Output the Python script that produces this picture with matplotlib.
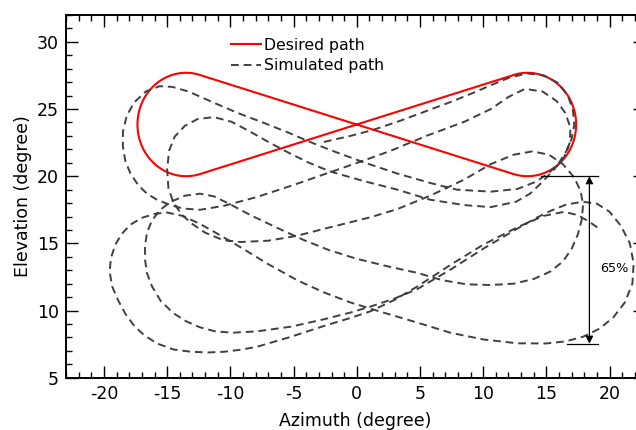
import numpy as np
import matplotlib
matplotlib.use("Agg")
import matplotlib.pyplot as plt
from matplotlib.ticker import MultipleLocator

# Desired figure-eight: two circles joined by crossing tangent lines
desired_center_az = 13.5
desired_center_el = 23.85
desired_radius = 3.85

# Simulated path in path order (azimuth, elevation)
sim_az = [
    -2.6, -0.5, 1.3, 3.5, 5.8, 7.5, 9.2, 10.8, 12.1, 13.5, 14.8, 15.9, 16.7, 17.1, 17.2,
    17.0, 16.6, 16.0, 15.2, 14.2, 12.7, 10.6, 7.9, 5.8, 3.2, 0.5, -2.1, -3.7, -5.3, -7.3,
    -9.4, -11.5, -13.3, -14.6, -15.6,
    -16.7, -17.6, -18.2, -18.5, -18.5, -18.3, -17.9, -17.3, -16.6, -15.8, -15.0, -13.8,
    -12.4, -10.5, -7.9, -5.0, -2.1, 0.5, 2.7, 5.5, 8.5, 10.6, 12.0, 13.3,
    14.7, 15.8, 16.5, 16.9, 16.85, 16.4, 15.6, 14.6, 13.7, 12.6, 10.6, 8.5, 5.8, 3.2, 0.5,
    -2.1, -3.9, -5.5, -6.9, -8.4, -9.9, -11.3,
    -12.6, -13.6, -14.4, -14.85, -15.0, -14.9, -14.5, -13.9, -13.1, -12.0, -10.6, -9.2,
    -7.0, -4.8, -2.1, 1.1, 3.2, 5.8, 8.5, 10.6, 12.4, 13.9,
    15.2, 16.3, 17.2, 17.7, 17.9, 17.8, 17.5, 17.0, 16.3, 15.3, 14.0, 12.4, 10.6, 8.7, 6.8,
    4.8, 2.4, 0.0, -2.2, -4.2, -6.4, -8.4, -10.0, -11.3, -12.4,
    -13.6, -14.8, -15.6, -16.2, -16.6, -16.75, -16.75, -16.6, -16.2, -15.5, -14.5, -13.5,
    -12.4, -11.2, -9.8, -7.9, -5.2, -2.6, -0.5, 1.1,
    3.0, 4.8, 7.5, 10.0, 12.7, 14.2, 15.4, 16.6, 17.9, 19.0, 20.0, 20.9, 21.6, 21.9, 21.8,
    21.2, 20.3, 19.2, 17.9, 16.5, 15.0, 12.7, 10.0, 7.4, 4.8, 2.1, -0.5, -2.6, -4.7, -7.0,
    -9.0, -10.8, -12.4, -13.8, -15.0,
    -16.0, -17.0, -17.9, -18.6, -19.1, -19.45, -19.55, -19.35, -18.9, -18.3, -17.6, -16.8,
    -15.8, -14.5, -13.1, -11.8, -10.5, -9.2, -7.9, -5.2, -2.6, -0.5, 1.1,
    3.0, 4.8, 7.5, 10.0, 12.7, 14.8, 16.4, 17.5, 18.4, 19.3,
]
sim_el = [
    22.55, 23.0, 23.45, 24.15, 24.95, 25.55, 26.2, 26.85, 27.35, 27.65, 27.5, 26.95, 26.0, 24.9, 23.8,
    22.8, 21.9, 21.0, 20.25, 19.6, 19.05, 18.85, 19.0, 19.5, 20.2, 21.05, 21.95, 22.55, 23.2, 23.95,
    24.7, 25.55, 26.3, 26.65, 26.7,
    26.3, 25.5, 24.5, 23.3, 22.2, 21.1, 20.2, 19.35, 18.7, 18.25, 17.95, 17.6,
    17.5, 17.8, 18.45, 19.35, 20.3, 21.15, 21.9, 23.0, 24.05, 25.0, 25.9, 26.5,
    26.3, 25.6, 24.7, 23.6, 22.5, 21.4, 20.5, 19.5, 18.7, 18.1, 17.7, 17.85, 18.25, 19.0, 19.65,
    20.35, 21.05, 21.8, 22.5, 23.3, 24.05, 24.4,
    24.25, 23.75, 22.95, 21.9, 20.5, 19.1, 18.05, 17.2, 16.5, 15.8, 15.25, 15.1,
    15.2, 15.55, 16.2, 16.95, 17.55, 18.55, 19.75, 20.9, 21.6, 21.85,
    21.6, 20.9, 19.9, 18.9, 17.9, 16.8, 15.7, 14.6, 13.65, 12.9, 12.35, 12.0, 11.9, 11.95, 12.25,
    12.8, 13.3, 13.85, 14.5, 15.25, 16.2, 17.1, 17.9, 18.5, 18.7,
    18.55, 18.05, 17.45, 16.7, 15.8, 14.8, 13.8, 12.8, 11.8, 10.7, 9.8, 9.2,
    8.75, 8.45, 8.35, 8.45, 8.8, 9.35, 9.85, 10.3,
    10.9, 11.6, 13.1, 14.6, 16.1, 16.9, 17.45, 17.9, 18.1, 17.95, 17.35, 16.3, 15.0, 13.5, 12.0,
    10.6, 9.5, 8.65, 8.05, 7.7, 7.55, 7.56, 7.85, 8.35, 9.1, 9.85, 10.6, 11.35, 12.25, 13.45,
    14.6, 15.6, 16.45, 17.05, 17.3,
    17.2, 16.9, 16.4, 15.7, 14.9, 13.9, 12.9, 11.8, 10.8, 9.75, 8.85, 8.15,
    7.55, 7.1, 6.93, 6.88, 6.93, 7.08, 7.3, 8.05, 8.85, 9.45, 9.95,
    10.8, 11.8, 13.45, 14.9, 16.2, 17.05, 17.35, 17.1, 16.6, 16.0,
]

# Altitude drop marker
drop_top = 20.0
drop_bottom = 7.53
drop_label = "65%"

# build the desired path from the two circles
c, yc, r = desired_center_az, desired_center_el, desired_radius
th = np.degrees(np.arcsin(r / c))
a_right = np.radians(np.linspace(90 + th, -90 - th, 120))
a_left = np.radians(np.linspace(90 - th, 270 + th, 120))
des_az = np.concatenate([[0], c + r * np.cos(a_right), [0], -c + r * np.cos(a_left), [0]])
des_el = np.concatenate([[yc], yc + r * np.sin(a_right), [yc], yc + r * np.sin(a_left), [yc]])

plt.rcParams["font.family"] = "DejaVu Sans"
plt.rcParams["axes.unicode_minus"] = False

fig = plt.figure(figsize=(6.36, 4.30), dpi=100)
ax = fig.add_axes([0.1038, 0.1216, 0.9104, 0.8435])

ax.plot(des_az, des_el, color="red", lw=1.5, label="Desired path")
ax.plot(sim_az, sim_el, color="#404040", lw=1.4, dashes=(4, 2.5), label="Simulated path")

# drop annotation
ax.plot([14.6, 19.1], [drop_top, drop_top], color="black", lw=0.9)
ax.plot([16.6, 19.1], [drop_bottom, drop_bottom], color="black", lw=0.9)
ax.annotate("", xy=(18.4, drop_top), xytext=(18.4, drop_bottom),
            arrowprops=dict(arrowstyle="<|-|>", color="black", lw=0.9,
                            mutation_scale=11, shrinkA=0, shrinkB=0))
ax.text(20.4, 13.15, drop_label, fontsize=9.2, ha="center", va="center")

ax.set_xlim(-23, 22.8)
ax.set_ylim(5, 32)
ax.set_xticks(np.arange(-20, 21, 5))
ax.set_yticks(np.arange(5, 31, 5))
ax.xaxis.set_minor_locator(MultipleLocator(1))
ax.yaxis.set_minor_locator(MultipleLocator(1))
ax.tick_params(which="both", direction="in", top=True, right=True, width=1.0)
ax.tick_params(which="major", length=8.6, labelsize=12.5, pad=5)
ax.tick_params(which="minor", length=4.3)
for s in ax.spines.values():
    s.set_linewidth(1.4)

ax.set_xlabel("Azimuth (degree)", fontsize=12.5, labelpad=7)
ax.set_ylabel("Elevation (degree)", fontsize=12.5, labelpad=4)

ax.legend(loc="upper left", bbox_to_anchor=(0.285, 0.937), frameon=False,
          fontsize=11.3, handlelength=1.9, handletextpad=0.2, labelspacing=0.35,
          borderpad=0, borderaxespad=0)

fig.savefig("out.png", dpi=100)
